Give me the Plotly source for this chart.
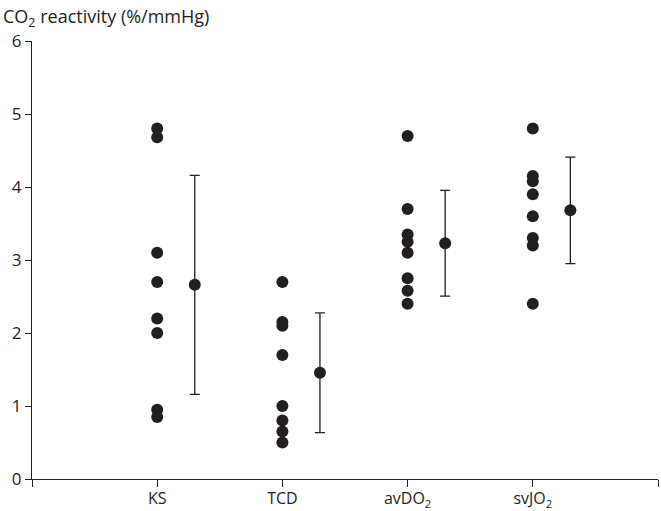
import plotly.graph_objects as go

# CO2 reactivity measured by four methods (individual subjects)
categories = ["KS", "TCD", "avDO<sub>2</sub>", "svJO<sub>2</sub>"]
ks_values = [4.80, 4.68, 3.10, 2.70, 2.20, 2.00, 0.95, 0.85]
tcd_values = [2.70, 2.15, 2.10, 1.70, 1.00, 0.80, 0.65, 0.50]
avdo2_values = [4.70, 3.70, 3.35, 3.25, 3.10, 2.75, 2.58, 2.40]
svjo2_values = [4.80, 4.15, 4.08, 3.90, 3.60, 3.30, 3.20, 2.40]

# Group summary: mean and standard deviation
group_means = [2.66, 1.455, 3.23, 3.68]
group_sds = [1.50, 0.82, 0.725, 0.73]

y_ticks = [0, 1, 2, 3, 4, 5, 6]

INK = "#231f20"
FONT = "Open Sans, Noto Sans, sans-serif"

fig = go.Figure()

groups = [ks_values, tcd_values, avdo2_values, svjo2_values]
for i, vals in enumerate(groups, start=1):
    fig.add_trace(go.Scatter(
        x=[i] * len(vals), y=vals, mode="markers",
        marker=dict(size=12, color=INK),
        cliponaxis=False, showlegend=False,
    ))

# Mean ± SD drawn just to the right of each group
fig.add_trace(go.Scatter(
    x=[i + 1 + 0.3 for i in range(len(group_means))],
    y=group_means, mode="markers",
    marker=dict(size=12, color=INK),
    error_y=dict(type="data", array=group_sds, symmetric=True,
                 color=INK, thickness=1.3, width=5),
    cliponaxis=False, showlegend=False,
))

fig.add_annotation(
    text="CO<sub>2</sub> reactivity (%/mmHg)",
    xref="paper", yref="paper", x=0, y=1,
    xshift=-31, yshift=24, xanchor="left", yanchor="middle",
    showarrow=False, font=dict(family=FONT, size=18, color=INK),
)

fig.update_layout(
    width=661, height=511,
    margin=dict(l=32, r=3, t=41, b=32),
    paper_bgcolor="white", plot_bgcolor="white",
    font=dict(family=FONT, size=17, color=INK),
    xaxis=dict(
        range=[0, 5], tickmode="array",
        tickvals=[0, 1, 2, 3, 4, 5],
        ticktext=[""] + categories + [""],
        showgrid=False, zeroline=False, automargin=False,
        showline=True, linecolor=INK, linewidth=1.2,
        ticks="outside", ticklen=7, tickcolor=INK, tickwidth=1.2,
        tickfont=dict(size=16), ticklabelstandoff=-2,
    ),
    yaxis=dict(
        range=[0, 6], tickmode="array", tickvals=y_ticks,
        showgrid=False, zeroline=False, automargin=False,
        showline=True, linecolor=INK, linewidth=1.2,
        ticks="outside", ticklen=6, tickcolor=INK, tickwidth=1.2,
    ),
)

fig.write_html("out.html")
